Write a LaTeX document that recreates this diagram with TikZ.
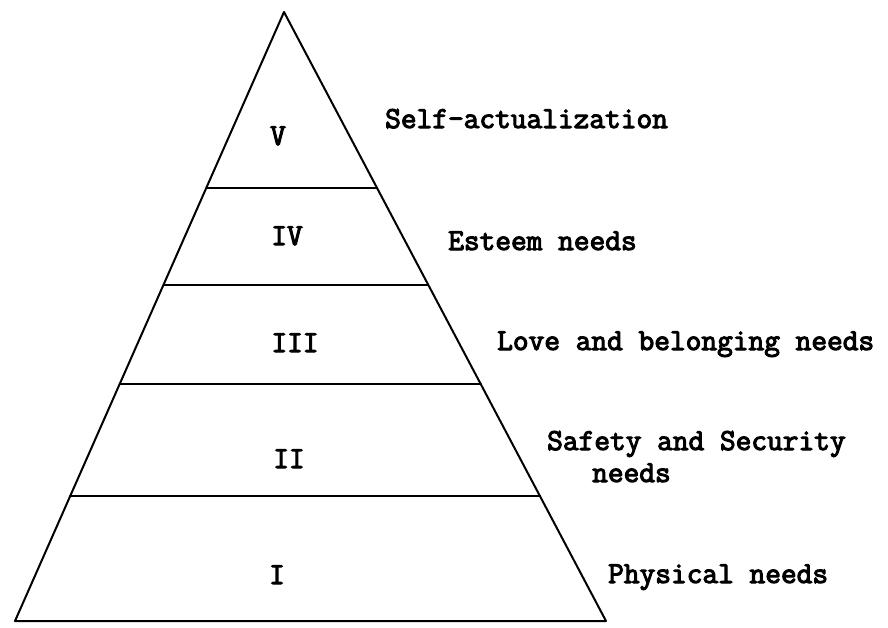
\documentclass[tikz,border=0pt]{standalone}
\usepackage{fontspec}
\newfontfamily\typer{Latin Modern Mono}[FakeBold=3.5]
\usepackage{tikz}
\usetikzlibrary{calc}
\tikzset{
  edge/.style={draw=black, line width=2pt, line cap=round, line join=round},
  lvl/.style={font=\typer\fontsize{30.5}{32}\selectfont, inner sep=0pt, anchor=base},
  need/.style={lvl, anchor=base west},
}

\begin{document}
\begin{tikzpicture}[x=1pt,y=-1pt]
  \useasboundingbox (0,0) rectangle (888,627);
  \coordinate (T) at (284,12);
  \coordinate (L) at (15,621);
  \coordinate (R) at (606,621);
  \draw[edge] (L) -- (T) -- (R) -- cycle;
  \foreach \n/\f in {a/0.2885,b/0.4475,c/0.6115,d/0.795}{
    \coordinate (L\n) at ($(T)!\f!(L)$);
    \coordinate (R\n) at ($(T)!\f!(R)$);
    \draw[edge] (L\n) -- (R\n);
  }
  % levels, top to bottom
  \node[lvl] (v)   at (278,145) {V};
  \node[lvl] (iv)  at (287,245) {IV};
  \node[lvl] (iii) at (295,352) {III};
  \node[lvl] (ii)  at (289,468) {II};
  \node[lvl] (i)   at (277,584) {I};
  \node[need] (self)   at (385,128) {Self-actualization};
  \node[need] (esteem) at (448,250) {Esteem needs};
  \node[need] (love)   at (497,350) {Love and belonging needs};
  \node[need] (safe)   at (547,450) {Safety and Security};
  \node[need] (safe2)  at (592,482) {needs};
  \node[need] (phys)   at (608,583) {Physical needs};
\end{tikzpicture}
\end{document}
